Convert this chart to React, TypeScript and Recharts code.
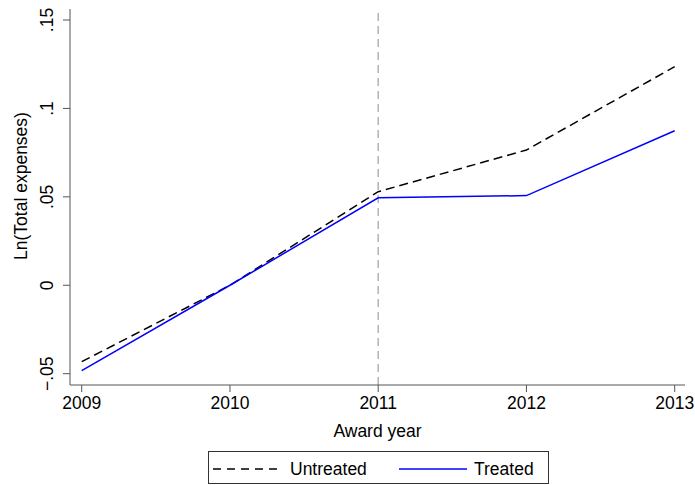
import React from 'react'
import {
  LineChart,
  Line,
  XAxis,
  YAxis,
  ReferenceLine,
  Legend
} from 'recharts'

const years = [2009, 2010, 2011, 2012, 2013]
const untreated = [-0.0432, 0.0, 0.0529, 0.0765, 0.1236]
const treated = [-0.0483, 0.0, 0.0495, 0.0507, 0.0874]
const yTicks = [-0.05, 0, 0.05, 0.1, 0.15]
const yTickLabels = ['\u2212.05', '0', '.05', '.1', '.15']

const FONT = '"Liberation Sans", Arial, sans-serif'
const AXIS = '#555'

const data = years.map((year, i) => ({
  year,
  Untreated: untreated[i],
  Treated: treated[i]
}))

// y tick labels are rotated like Stata does it
const YTick = ({ x, y, payload }: any) => {
  const tx = x - 8
  const label = yTickLabels[yTicks.indexOf(payload.value)] ?? String(payload.value)
  return (
    <text x={tx} y={y} transform={`rotate(-90, ${tx}, ${y})`} textAnchor="middle"
      fontFamily={FONT} fontSize={17.5} fill="#000">
      {label}
    </text>
  )
}

const XTick = ({ x, y, payload }: any) => (
  <text x={x} y={y + 15} textAnchor="middle" fontFamily={FONT} fontSize={17.5} fill="#000">
    {payload.value}
  </text>
)

const LegendBox = () => (
  <svg width={341} height={33} style={{ display: 'block' }}>
    <rect x={0.5} y={0.5} width={340} height={32} fill="#fff" stroke="#333" strokeWidth={1} />
    <line x1={5} y1={18} x2={73} y2={18} stroke="#000" strokeWidth={1.5} strokeDasharray="8 6" />
    <text x={82} y={24} fontFamily={FONT} fontSize={17.5} fill="#000">Untreated</text>
    <line x1={191} y1={18} x2={259} y2={18} stroke="#0000ff" strokeWidth={1.5} />
    <text x={266} y={24} fontFamily={FONT} fontSize={17.5} fill="#000">Treated</text>
  </svg>
)

export default function App() {
  return (
    <div style={{ position: 'absolute', left: 0, top: 0, background: '#fff' }}>
      <LineChart width={695} height={485} data={data}
        margin={{ top: 9, right: 10, bottom: 1, left: 0 }}>
        <XAxis
          dataKey="year"
          type="number"
          domain={[2008.921, 2013.0695]}
          allowDataOverflow
          ticks={years}
          height={66}
          tickSize={7}
          stroke={AXIS}
          tick={<XTick />}
          label={({ viewBox }: any) => (
            <text x={viewBox.x + viewBox.width / 2} y={437} textAnchor="middle"
              fontFamily={FONT} fontSize={17.5} fill="#000">Award year</text>
          )}
        />
        <YAxis
          type="number"
          domain={[-0.05639, 0.15622]}
          allowDataOverflow
          ticks={yTicks}
          width={70}
          tickSize={7}
          stroke={AXIS}
          tick={<YTick />}
          label={() => (
            <text x={27} y={186} transform="rotate(-90, 27, 186)" textAnchor="middle"
              fontFamily={FONT} fontSize={17.5} fill="#000">Ln(Total expenses)</text>
          )}
        />
        <ReferenceLine x={2011} stroke="#b3b3b3" strokeWidth={1.5} strokeDasharray="8 5" />
        <Line type="linear" dataKey="Untreated" stroke="#000" strokeWidth={1.5}
          strokeDasharray="9 5" dot={false} isAnimationActive={false} />
        <Line type="linear" dataKey="Treated" stroke="#0000ff" strokeWidth={1.5}
          dot={false} isAnimationActive={false} />
        <Legend verticalAlign="bottom" content={<LegendBox />}
          wrapperStyle={{ left: 208, width: 341, height: 33, bottom: 1 }} />
      </LineChart>
    </div>
  )
}
